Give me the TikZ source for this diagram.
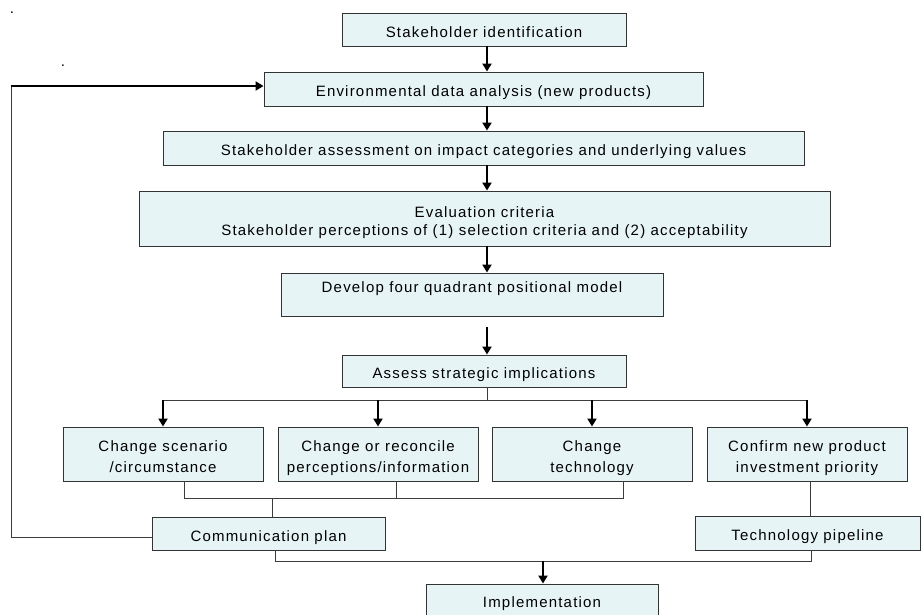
\documentclass[tikz,border=0pt]{standalone}
\usepackage{fontspec}
\setmainfont{Liberation Sans}[LetterSpace=8]
\usetikzlibrary{arrows.meta}
\definecolor{boxfill}{RGB}{231,244,246}
\definecolor{boxline}{RGB}{51,51,51}
\definecolor{linkgray}{RGB}{60,60,60}

\begin{document}
\begin{tikzpicture}[x=1pt, y=-1pt,
  box/.style={draw=boxline, fill=boxfill, line width=0.9pt, inner sep=0pt, align=center, font=\fontsize{15}{18}\selectfont},
  oneline/.style={box, text height=15.8pt, text depth=0pt},
  twoline/.style={box, text height=36.8pt, text depth=0pt},
  flow/.style={-{Triangle[length=8pt,width=9pt]}, line width=1.9pt},
  link/.style={draw=linkgray, line width=0.9pt},
  dotmark/.style={inner sep=0pt, font=\fontsize{15}{18}\selectfont}
]
  \path[use as bounding box, clip] (0,0) rectangle (921,614);
  \node[dotmark] (markA) at (12,13) {.};
  \node[dotmark] (markB) at (63,66) {.};
  \node[oneline, minimum width=284pt, minimum height=33pt] (ident) at (484,29.5) {Stakeholder identification};
  \node[oneline, minimum width=439pt, minimum height=34pt] (env) at (483.5,89) {Environmental data analysis (new products)};
  \node[oneline, minimum width=641pt, minimum height=34pt] (assess) at (483.5,148) {Stakeholder assessment on impact categories and underlying values};
  \node[box, text height=33.8pt, text depth=0pt, minimum width=691pt, minimum height=55pt] (eval) at (484.5,218.5) {Evaluation criteria\\Stakeholder perceptions of (1) selection criteria and (2) acceptability};
  \node[box, minimum width=382pt, minimum height=43pt] (model) at (472,294.5) {\raisebox{15pt}{Develop four quadrant positional model}};
  \node[oneline, minimum width=284pt, minimum height=32pt] (implic) at (484,371) {Assess strategic implications};
  \node[twoline, minimum width=200pt, minimum height=54pt] (chA) at (163,454) {Change scenario\\[3pt]/circumstance};
  \node[twoline, minimum width=200pt, minimum height=54pt] (chB) at (378,454) {Change or reconcile\\[3pt]perceptions/information};
  \node[twoline, minimum width=200pt, minimum height=54pt] (chC) at (592,454) {Change\\[3pt]technology};
  \node[twoline, minimum width=200pt, minimum height=54pt] (chD) at (807,454) {Confirm new product\\[3pt]investment priority};
  \node[oneline, minimum width=233pt, minimum height=33pt] (comm) at (268.5,533.5) {Communication plan};
  \node[oneline, minimum width=225pt, minimum height=34pt] (pipe) at (807.5,533) {Technology pipeline};
  \node[box, minimum width=232pt, minimum height=40pt] (impl) at (542,604) {\raisebox{4pt}{Implementation}};

  \coordinate (spine) at (487,0);
  \coordinate (fork) at (487,400);
  \coordinate (joinL) at (272,498);
  \coordinate (joinB) at (543,561);
  \coordinate (back) at (11,86);

  \draw[flow] (spine |- ident.south) -- (spine |- env.north);
  \draw[flow] (spine |- env.south) -- (spine |- assess.north);
  \draw[flow] (spine |- assess.south) -- (spine |- eval.north);
  \draw[flow] (spine |- eval.south) -- (spine |- model.north);
  \draw[flow] (spine |- model.south) ++(0,11) -- (spine |- implic.north);

  \draw[link] (spine |- implic.south) -- (fork);
  \draw[link] (fork -| chA.north) -- (fork -| chD.north);
  \draw[flow] (fork -| chA.north) -- (chA.north);
  \draw[flow] (fork -| chB.north) -- (chB.north);
  \draw[flow] (fork -| chC.north) -- (chC.north);
  \draw[flow] (fork -| chD.north) -- (chD.north);

  \draw[link] ([xshift=21pt]chA.south) -- ++(0,17) -| ([xshift=31pt]chC.south);
  \draw[link] ([xshift=18pt]chB.south) -- ++(0,17);
  \draw[link] (joinL) -- (joinL |- comm.north);
  \draw[link] ([xshift=3pt]chD.south) -- ([xshift=3pt]chD.south |- pipe.north);

  \draw[link] ([xshift=6.5pt]comm.south) |- (joinB) -| ([xshift=3.5pt]pipe.south);
  \draw[flow] (joinB) -- (joinB |- impl.north);

  \draw[link] ([yshift=-3.5pt]comm.west) -| (back);
  \draw[flow] (back) -- (back -| env.west);
\end{tikzpicture}
\end{document}
